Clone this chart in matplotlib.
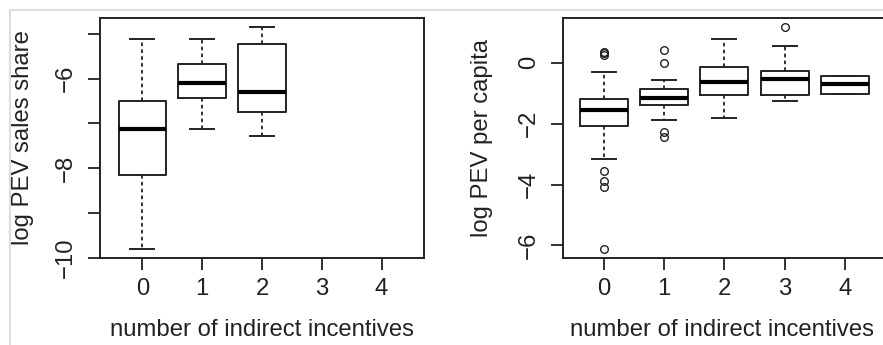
import matplotlib
matplotlib.use("Agg")
import matplotlib.pyplot as plt
from matplotlib.lines import Line2D

plt.rcParams['font.family'] = ['Liberation Sans', 'DejaVu Sans']

# ---- data ----
categories = [0, 1, 2, 3, 4]
tick_labels = ["0", "1", "2", "3", "4"]

# Left: log PEV sales share (groups 0,1,2 only)
share_pos = [0, 1, 2]
share_whislo = [-9.79, -7.12, -7.29]
share_q1 = [-8.14, -6.43, -6.75]
share_med = [-7.12, -6.10, -6.31]
share_q3 = [-6.50, -5.67, -5.23]
share_whishi = [-5.12, -5.12, -4.85]

# Right: log PEV per capita (groups 0..4)
cap_pos = [0, 1, 2, 3, 4]
cap_whislo = [-3.17, -1.87, -1.83, -1.25, -1.03]
cap_q1 = [-2.08, -1.40, -1.07, -1.08, -1.03]
cap_med = [-1.56, -1.15, -0.64, -0.53, -0.71]
cap_q3 = [-1.19, -0.87, -0.15, -0.27, -0.44]
cap_whishi = [-0.32, -0.57, 0.77, 0.55, -0.44]
cap_fliers = [
    [0.36, 0.31, 0.26, -3.56, -3.90, -4.08, -6.13],
    [0.42, -0.02, -2.27, -2.43],
    [],
    [1.18],
    [],
]

ylabel_left = "log PEV sales share"
ylabel_right = "log PEV per capita"
xlabel = "number of indirect incentives"

W, H = 883, 345
fig = plt.figure(figsize=(W / 100, H / 100), dpi=100)
fs = 17.2
ink = "#222222"


def stats(pos, lo, q1, med, q3, hi, fl=None):
    out = []
    for i in range(len(pos)):
        out.append(dict(med=med[i], q1=q1[i], q3=q3[i], whislo=lo[i],
                        whishi=hi[i], fliers=(fl[i] if fl else [])))
    return out


def draw(ax, st, pos):
    ax.bxp(st, positions=pos, widths=0.8, showfliers=True,
           boxprops=dict(color=ink, linewidth=1.4),
           medianprops=dict(color="black", linewidth=3.0, solid_capstyle="butt"),
           whiskerprops=dict(color=ink, linewidth=1.3, linestyle=(0, (2.0, 1.8))),
           capprops=dict(color=ink, linewidth=1.4),
           flierprops=dict(marker="o", markersize=5.5, markerfacecolor="none",
                           markeredgecolor=ink, markeredgewidth=1.0))


def px_axes(x0, y0, x1, y1):
    return fig.add_axes([x0 / W, (H - y1) / H, (x1 - x0) / W, (y1 - y0) / H])


def style(ax):
    for s in ax.spines.values():
        s.set_linewidth(1.4)
        s.set_color(ink)
    ax.tick_params(axis="both", length=8.6, width=1.3, color=ink,
                   labelsize=fs, labelcolor=ink)
    ax.tick_params(axis="x", pad=5.5)
    ax.tick_params(axis="y", pad=8)
    for lab in ax.get_yticklabels():
        lab.set_rotation(90)
        lab.set_va("center")


# Left panel
axL = px_axes(100, 18, 424, 258)
draw(axL, stats(share_pos, share_whislo, share_q1, share_med, share_q3, share_whishi), share_pos)
axL.set_xlim(-0.71, 4.71)
axL.set_ylim(-9.99, -4.65)
axL.set_xticks(categories)
axL.set_xticklabels(tick_labels)
axL.set_yticks([-10, -9, -8, -7, -6, -5])
axL.set_yticklabels(["\u221210", "", "\u22128", "", "\u22126", ""])
style(axL)
axL.set_ylabel(ylabel_left, fontsize=fs, color=ink)
axL.set_xlabel(xlabel, fontsize=fs, color=ink)
axL.yaxis.set_label_coords(-0.205, 0.5)
axL.xaxis.set_label_coords(0.5, -0.255)

# Right panel
axR = px_axes(563, 18, 887, 258)
draw(axR, stats(cap_pos, cap_whislo, cap_q1, cap_med, cap_q3, cap_whishi, cap_fliers), cap_pos)
axR.set_xlim(-0.68, 4.70)
axR.set_ylim(-6.41, 1.46)
axR.set_xticks(categories)
axR.set_xticklabels(tick_labels)
axR.set_yticks([-6, -4, -2, 0])
axR.set_yticklabels(["\u22126", "\u22124", "\u22122", "0"])
style(axR)
axR.set_ylabel(ylabel_right, fontsize=fs, color=ink)
axR.set_xlabel(xlabel, fontsize=fs, color=ink)
axR.yaxis.set_label_coords(-0.215, 0.5)
axR.xaxis.set_label_coords(0.49, -0.255)

# light frame lines of the screenshot
fig.add_artist(Line2D([10 / W, 1], [1 - 10 / H, 1 - 10 / H], color="#dddddd", lw=1.5,
                      transform=fig.transFigure))
fig.add_artist(Line2D([10 / W, 10 / W], [0, 1 - 10 / H], color="#dddddd", lw=1.5,
                      transform=fig.transFigure))

fig.savefig("out.png", dpi=100)
